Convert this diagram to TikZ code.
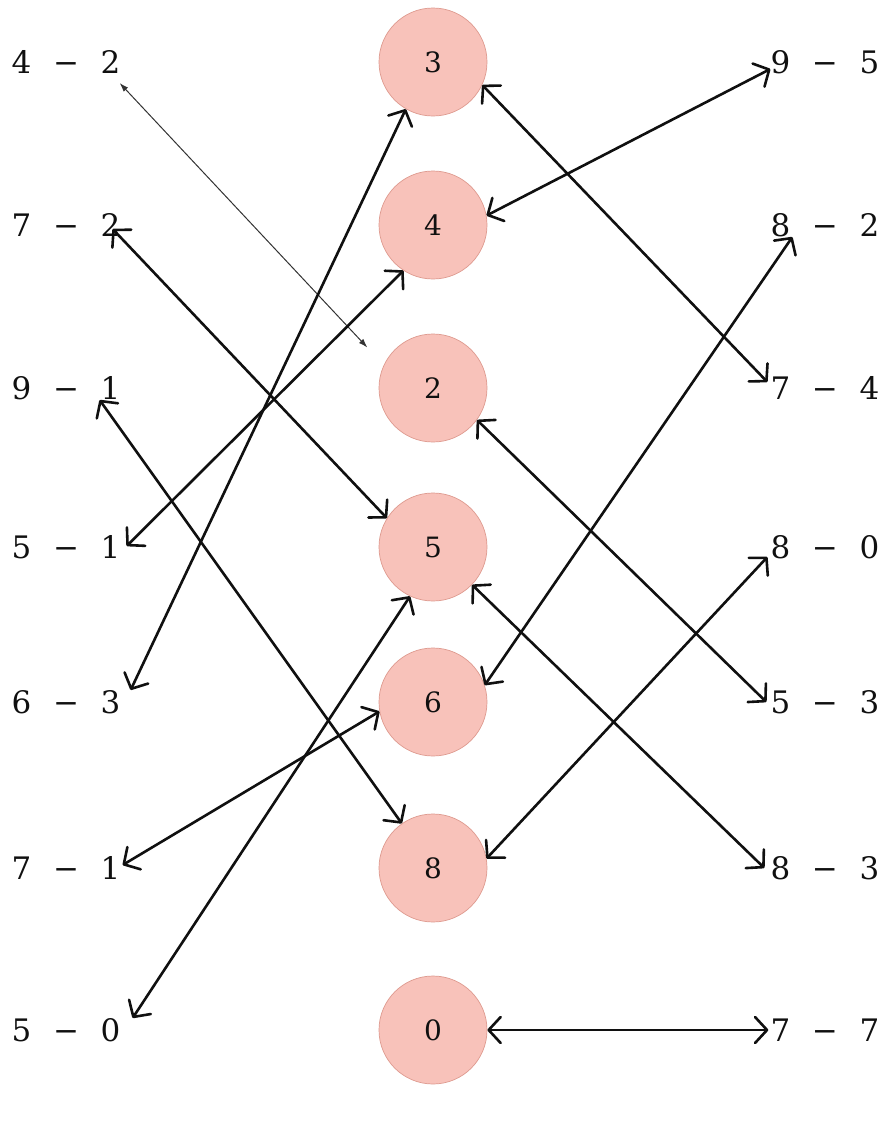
\documentclass[tikz,border=0pt]{standalone}
\usepackage{fontspec}
\setmainfont{DejaVu Serif}
\usepackage{xcolor}
\usepackage{tikz}
\usetikzlibrary{arrows.meta,positioning}
\definecolor{PinkFill}{HTML}{F8C2BA}
\definecolor{PinkEdge}{HTML}{DE9A8F}
\definecolor{InkDark}{HTML}{101010}
\definecolor{InkGray}{HTML}{333333}
\newcommand{\dpair}[2]{#1\hspace{.7em}−\hspace{.7em}#2}

\begin{document}
\begin{tikzpicture}[x=1pt,y=-1pt,
  num/.style={circle,draw=PinkEdge,line width=0.7pt,fill=PinkFill,
              minimum size=108pt,inner sep=0pt,
              font=\fontsize{28}{32}\selectfont,text=InkDark},
  lab/.style={inner sep=0pt,font=\fontsize{31}{36}\selectfont,text=InkDark},
  arr/.style={{Straight Barb[length=12pt,width=26pt,round]}-{Straight Barb[length=12pt,width=26pt,round]},
              line width=2.6pt,InkDark},
  thin/.style={{Latex[length=9pt,width=6pt]}-{Latex[length=9pt,width=6pt]},
               line width=1pt,InkGray}]
\useasboundingbox (0,0) rectangle (885,1128);
% middle column
\node[num] (c3) at (433,62) {3};
\node[num] (c4) at (433,225) {4};
\node[num] (c2) at (433,388) {2};
\node[num] (c5) at (433,547) {5};
\node[num] (c6) at (433,702) {6};
\node[num] (c8) at (433,868) {8};
\node[num] (c0) at (433,1030) {0};
% left column
\node[lab,left=258pt of c3] (l42) {\dpair{4}{2}};
\node[lab,left=258pt of c4] (l72) {\dpair{7}{2}};
\node[lab,left=258pt of c2] (l91) {\dpair{9}{1}};
\node[lab,left=258pt of c5] (l51) {\dpair{5}{1}};
\node[lab,left=258pt of c6] (l63) {\dpair{6}{3}};
\node[lab,left=258pt of c8] (l71) {\dpair{7}{1}};
\node[lab,left=258pt of c0] (l50) {\dpair{5}{0}};
% right column
\node[lab,right=283pt of c3] (r95) {\dpair{9}{5}};
\node[lab,right=283pt of c4] (r82) {\dpair{8}{2}};
\node[lab,right=283pt of c2] (r74) {\dpair{7}{4}};
\node[lab,right=283pt of c5] (r80) {\dpair{8}{0}};
\node[lab,right=283pt of c6] (r53) {\dpair{5}{3}};
\node[lab,right=283pt of c8] (r83) {\dpair{8}{3}};
\node[lab,right=283pt of c0] (r77) {\dpair{7}{7}};
% links
\draw[thin,shorten >=24pt] ([shift={(-1,21)}]l42.east) -- (c2.155);
\draw[arr] ([shift={(-8,4)}]l72.east) -- (c5.148);
\draw[arr] ([shift={(-21,12)}]l91.east) -- (c8.125);
\draw[arr] ([shift={(6,-1)}]l51.east) -- (c4.237);
\draw[arr] ([shift={(10,-12)}]l63.east) -- (c3.240);
\draw[arr] ([shift={(2,-3)}]l71.east) -- (c6.190);
\draw[arr] ([shift={(12,-12)}]l50.east) -- (c5.245);
\draw[arr] (c0.east) -- ([xshift=-2pt]r77.west);
\draw[arr] (c3.335) -- ([shift={(-3,-6)}]r74.west);
\draw[arr] (c4.10) -- ([shift={(0,7)}]r95.west);
\draw[arr] ([shift={(22,12)}]r82.west) -- (c6.18);
\draw[arr] (c2.324) -- ([shift={(-4,0)}]r53.west);
\draw[arr] (c5.316) -- ([shift={(-6,0)}]r83.west);
\draw[arr] ([shift={(-3,10)}]r80.west) -- (c8.10);
\end{tikzpicture}
\end{document}
